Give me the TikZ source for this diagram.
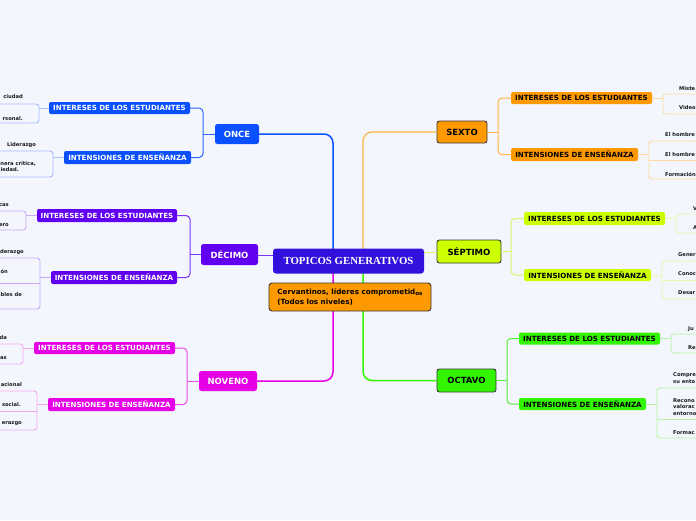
\documentclass[tikz,border=0pt]{standalone}
\usepackage{fontspec}
\setmainfont{DejaVu Sans}
\newfontfamily\topicfont{Liberation Serif}
\definecolor{bgC}{HTML}{F4F6FE}
\definecolor{centerC}{HTML}{3310DC}
\definecolor{onceC}{HTML}{0A50FF}
\definecolor{onceL}{HTML}{2A64FF}
\definecolor{onceF}{HTML}{A9BDFF}
\definecolor{decC}{HTML}{6100F0}
\definecolor{decL}{HTML}{7A33F5}
\definecolor{decF}{HTML}{C8A8FA}
\definecolor{novC}{HTML}{E600E6}
\definecolor{novL}{HTML}{E84DE8}
\definecolor{novF}{HTML}{F2A8F2}
\definecolor{sexC}{HTML}{FF9900}
\definecolor{sexL}{HTML}{FFB444}
\definecolor{sexF}{HTML}{FFD8A0}
\definecolor{sepC}{HTML}{CCFF00}
\definecolor{sepL}{HTML}{DDF566}
\definecolor{sepF}{HTML}{E8F8A8}
\definecolor{octC}{HTML}{33F500}
\definecolor{octL}{HTML}{55EE33}
\definecolor{octF}{HTML}{B0F5A0}
\definecolor{bordC}{HTML}{383838}
\definecolor{leafT}{HTML}{1A1A1A}
\tikzset{
  lvone/.style={rounded corners=2.5pt, inner sep=0pt, font=\fontsize{8.5}{10}\selectfont\bfseries},
  lvonel/.style={lvone, text=white},
  lvoner/.style={lvone, text=black, draw=bordC, line width=0.9pt},
  lvtwo/.style={rounded corners=2pt, inner sep=0pt, font=\fontsize{7.1}{8}\selectfont\bfseries},
  lvtwol/.style={lvtwo, text=white},
  lvtwor/.style={lvtwo, text=black},
  leaf/.style={inner sep=0pt, font=\fontsize{5.2}{6.2}\selectfont\bfseries, text=leafT},
  mainln/.style={line width=1.5pt, rounded corners=9pt},
  subln/.style={line width=1pt},
  leafln/.style={line width=0.9pt}
}
\begin{document}
\begin{tikzpicture}[x=1pt,y=-1pt]
\useasboundingbox (0,0) rectangle (696,520);
\fill[bgC] (0,0) rectangle (696,520);
\clip (0,0) rectangle (696,520);

% named connection points on the central topic
\coordinate (tn1) at (333,249);
\coordinate (tn2) at (363,249);
\coordinate (ts1) at (333,273);
\coordinate (ts2) at (363,273);
\coordinate (tw) at (273,255);
\coordinate (te) at (424,252);

% level 1 nodes
\node[lvonel, fill=onceC, minimum width=44pt, minimum height=20pt] (once) at (237,134) {ONCE};
\node[lvonel, fill=decC, minimum width=57pt, minimum height=21pt] (dec) at (229.5,254.5) {DÉCIMO};
\node[lvonel, fill=novC, minimum width=58pt, minimum height=20pt] (nov) at (228,381) {NOVENO};
\node[lvoner, fill=sexC, minimum width=50pt, minimum height=22pt] (sex) at (462,132) {SEXTO};
\node[lvoner, fill=sepC, minimum width=64pt, minimum height=23pt] (sep) at (469,251.5) {SÉPTIMO};
\node[lvoner, fill=octC, minimum width=59pt, minimum height=23pt] (oct) at (466.5,380.5) {OCTAVO};

% main connectors
\draw[mainln, draw=onceC] (once.east) -- (333,134) -- (tn1);
\draw[mainln, draw=novC] (nov.east) -- (333,381) -- (ts1);
\draw[mainln, draw=sexL, line width=1.2pt] (sex.west) -- (363,132) -- (tn2);
\draw[mainln, draw=octC] (oct.west) -- (363,380.5) -- (ts2);
\draw[mainln, draw=decL, line width=1pt] (dec.east |- tw) -- (tw);
\draw[mainln, draw=sepL, line width=1pt] (te) -- (sep.west |- te);

% central topic
\node[fill=centerC, rounded corners=3pt, minimum width=151pt, minimum height=25pt, inner sep=0pt,
  text=white, font=\topicfont\bfseries\fontsize{10.8}{12}\selectfont] (topic) at (348.5,261) {TOPICOS GENERATIVOS};
\node[fill=sexC, draw=bordC, line width=0.9pt, rounded corners=3pt, minimum width=162pt, minimum height=28pt,
  inner sep=0pt, align=left, font=\fontsize{7.2}{10}\selectfont\bfseries] (cerv) at (350,297)
  {Cervantinos, líderes comprometid{\fontsize{5.6}{5}\selectfont\raisebox{-1pt}{os}}\\(Todos los niveles)};

% level 2 nodes
\node[lvtwol, fill=onceC, minimum width=141pt, minimum height=12pt] (onceA) at (119.5,108) {INTERESES DE LOS ESTUDIANTES};
\node[lvtwol, fill=onceC, minimum width=127pt, minimum height=13pt] (onceB) at (127.5,157.5) {INTENSIONES DE ENSEÑANZA};
\node[lvtwol, fill=decC, minimum width=140pt, minimum height=13pt] (decA) at (107,215.5) {INTERESES DE LOS ESTUDIANTES};
\node[lvtwol, fill=decC, minimum width=126pt, minimum height=13pt] (decB) at (114,277.5) {INTENSIONES DE ENSEÑANZA};
\node[lvtwol, fill=novC, minimum width=141pt, minimum height=12pt] (novA) at (104.5,348) {INTERESES DE LOS ESTUDIANTES};
\node[lvtwol, fill=novC, minimum width=127pt, minimum height=13pt] (novB) at (111.5,404.5) {INTENSIONES DE ENSEÑANZA};
\node[lvtwor, fill=sexC, minimum width=141pt, minimum height=12pt] (sexA) at (581.5,98) {INTERESES DE LOS ESTUDIANTES};
\node[lvtwor, fill=sexC, minimum width=127pt, minimum height=13pt] (sexB) at (574.5,154.5) {INTENSIONES DE ENSEÑANZA};
\node[lvtwor, fill=sepC, minimum width=141pt, minimum height=13pt] (sepA) at (594.5,218.5) {INTERESES DE LOS ESTUDIANTES};
\node[lvtwor, fill=sepC, minimum width=127pt, minimum height=12pt] (sepB) at (587.5,275) {INTENSIONES DE ENSEÑANZA};
\node[lvtwor, fill=octC, minimum width=141pt, minimum height=12pt] (octA) at (589.5,338.5) {INTERESES DE LOS ESTUDIANTES};
\node[lvtwor, fill=octC, minimum width=127pt, minimum height=12pt] (octB) at (582.5,404) {INTENSIONES DE ENSEÑANZA};

% level 2 connectors
\draw[subln, draw=onceL] (once.west) -- (203,134);
\draw[subln, draw=onceL, rounded corners=4pt] (onceA.east) -- (203,108) -- (203,157.5) -- (onceB.east);
\draw[subln, draw=decL] (dec.west) -- (190,254.5);
\draw[subln, draw=decL, rounded corners=4pt] (decA.east) -- (190,215.5) -- (190,277.5) -- (decB.east);
\draw[subln, draw=novL] (nov.west) -- (187,381);
\draw[subln, draw=novL, rounded corners=4pt] (novA.east) -- (187,348) -- (187,404.5) -- (novB.east);
\draw[subln, draw=sexL] (sex.east) -- (498,132);
\draw[subln, draw=sexL, rounded corners=4pt] (sexA.west) -- (498,98) -- (498,154.5) -- (sexB.west);
\draw[subln, draw=sepL] (sep.east) -- (511,251.5);
\draw[subln, draw=sepL, rounded corners=4pt] (sepA.west) -- (511,218.5) -- (511,275) -- (sepB.west);
\draw[subln, draw=octL] (oct.east) -- (507,380.5);
\draw[subln, draw=octL, rounded corners=4pt] (octA.west) -- (507,338.5) -- (507,404) -- (octB.west);

% leaf groups, left side
\coordinate (onceAb) at (39,108);
\draw[leafln, draw=onceF, rounded corners=3pt] (-10,104) -- (39,104) -- (39,123) -- (-10,123);
\draw[leafln, draw=onceF] (onceA.west) -- (onceAb);
\node[leaf, anchor=east] (la1) at (23,97) {ciudad};
\node[leaf, anchor=east] (la2) at (23,118.5) {rsonal.};

\coordinate (onceBb) at (53,157.5);
\draw[leafln, draw=onceF, rounded corners=3pt] (-10,151) -- (53,151) -- (53,177) -- (-10,177);
\draw[leafln, draw=onceF] (onceB.west) -- (onceBb);
\node[leaf] (lb1) at (21.5,145) {Liderazgo};
\node[leaf, anchor=east] (lb2) at (36,163.5) {nera crítica,};
\node[leaf, anchor=east] (lb3) at (19,170) {iedad.};

\coordinate (decAb) at (26,215.5);
\draw[leafln, draw=decF, rounded corners=3pt] (-10,211) -- (26,211) -- (26,230) -- (-10,230);
\draw[leafln, draw=decF] (decA.west) -- (decAb);
\node[leaf, anchor=east] (lc1) at (9,205) {cas};
\node[leaf, anchor=east] (lc2) at (9,225) {ero};

\coordinate (decBb) at (40,277.5);
\draw[leafln, draw=decF, rounded corners=3pt] (-10,258) -- (40,258) -- (40,309) -- (-10,309);
\draw[leafln, draw=decF] (-10,283) -- (40,283);
\draw[leafln, draw=decF] (decB.west) -- (decBb);
\node[leaf, anchor=east] (ld1) at (24,252) {derazgo};
\node[leaf, anchor=east] (ld2) at (8,271) {ón};
\node[leaf, anchor=east] (ld3) at (22,294.5) {bles de};

\coordinate (novAb) at (23,348);
\draw[leafln, draw=novF, rounded corners=3pt] (-10,344) -- (23,344) -- (23,364) -- (-10,364);
\draw[leafln, draw=novF] (novA.west) -- (novAb);
\node[leaf, anchor=east] (le1) at (7,338) {da};
\node[leaf, anchor=east] (le2) at (7,358) {as};

\coordinate (novBb) at (37,404.5);
\draw[leafln, draw=novF, rounded corners=3pt] (-10,391) -- (37,391) -- (37,430) -- (-10,430);
\draw[leafln, draw=novF] (-10,411) -- (37,411);
\draw[leafln, draw=novF] (novB.west) -- (novBb);
\node[leaf, anchor=east] (lf1) at (22,385) {acional};
\node[leaf, anchor=east] (lf2) at (21,404.5) {social.};
\node[leaf, anchor=east] (lf3) at (22,424) {erazgo};

% leaf groups, right side
\coordinate (sexAb) at (663,98);
\draw[leafln, draw=sexF, rounded corners=3pt] (706,94) -- (663,94) -- (663,114) -- (706,114);
\draw[leafln, draw=sexF] (sexA.east) -- (sexAb);
\node[leaf, anchor=west] (ra1) at (679,89) {Miste};
\node[leaf, anchor=west] (ra2) at (679,108) {Video};

\coordinate (sexBb) at (649,154.5);
\draw[leafln, draw=sexF, rounded corners=3pt] (706,141) -- (649,141) -- (649,179) -- (706,179);
\draw[leafln, draw=sexF] (649,160) -- (706,160);
\draw[leafln, draw=sexF] (sexB.east) -- (sexBb);
\node[leaf, anchor=west] (rb1) at (665,135) {El hombre};
\node[leaf, anchor=west] (rb2) at (665,155) {El hombre};
\node[leaf, anchor=west] (rb3) at (665,174) {Formación};

\coordinate (sepAb) at (676,218.5);
\draw[leafln, draw=sepF, rounded corners=3pt] (706,214) -- (676,214) -- (676,233) -- (706,233);
\draw[leafln, draw=sepF] (sepA.east) -- (sepAb);
\node[leaf, anchor=west] (rc1) at (693,209) {V};
\node[leaf, anchor=west] (rc2) at (693,228) {A};

\coordinate (sepBb) at (662,275);
\draw[leafln, draw=sepF, rounded corners=3pt] (706,261) -- (662,261) -- (662,299) -- (706,299);
\draw[leafln, draw=sepF] (662,280) -- (706,280);
\draw[leafln, draw=sepF] (sepB.east) -- (sepBb);
\node[leaf, anchor=west] (rd1) at (678,255) {Gener};
\node[leaf, anchor=west] (rd2) at (678,274) {Conoc};
\node[leaf, anchor=west] (rd3) at (678,293) {Desar};

\coordinate (octAb) at (671,338.5);
\draw[leafln, draw=octF, rounded corners=3pt] (706,334) -- (671,334) -- (671,353) -- (706,353);
\draw[leafln, draw=octF] (octA.east) -- (octAb);
\node[leaf, anchor=west] (re1) at (688,329) {Ju};
\node[leaf, anchor=west] (re2) at (688,348) {Re};

\coordinate (octBb) at (657,404);
\draw[leafln, draw=octF, rounded corners=3pt] (706,388) -- (657,388) -- (657,438) -- (706,438);
\draw[leafln, draw=octF] (657,419) -- (706,419);
\draw[leafln, draw=octF] (octB.east) -- (octBb);
\node[leaf, anchor=west, align=left] (rf1) at (673,378) {Compre\\su ento};
\node[leaf, anchor=west, align=left] (rf2) at (673,407) {Recono\\valorac\\entorno};
\node[leaf, anchor=west] (rf3) at (673,433) {Formac};
\end{tikzpicture}
\end{document}
